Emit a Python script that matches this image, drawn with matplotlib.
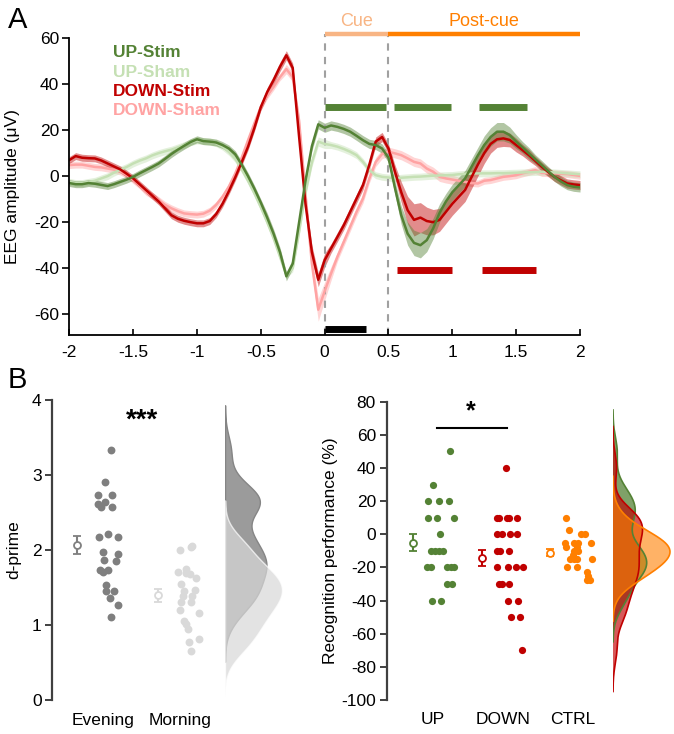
import numpy as np
import matplotlib
matplotlib.use('Agg')
import matplotlib.pyplot as plt

plt.rcParams['font.family'] = ['Liberation Sans', 'DejaVu Sans']
plt.rcParams['axes.unicode_minus'] = False

# ---------------- Panel A data (EEG, sampled every 50 ms from -2 to 2 s) ----------------
t = np.linspace(-2, 2, 81)
up_stim = [-3.0, -3.5, -3.5, -3.0, -3.3, -3.8, -4.3, -3.5, -2.5, -1.5,
           -0.3, 1.2, 2.6, 4.0, 5.5, 7.5, 9.6, 11.5, 13.2, 14.8,
           16.0, 15.2, 15.0, 14.6, 13.5, 12.0, 9.5, 5.0, 0.0, -5.5,
           -11.5, -18.0, -25.0, -33.0, -43.5, -38.0, -20.0, -2.0, 13.0, 22.5,
           21.0, 22.0, 21.4, 20.5, 19.3, 17.5, 15.6, 14.0, 13.5, 12.0,
           8.0, -5.0, -17.0, -25.0, -29.0, -30.0, -27.8, -22.7, -16.0, -11.0,
           -7.0, -4.0, -1.0, 4.0, 9.0, 13.5, 17.0, 19.3, 19.3, 17.8,
           15.0, 12.5, 9.9, 7.3, 4.8, 2.2, -0.3, -2.3, -3.9, -4.6, -4.9]
up_sham = [-2.5, -3.0, -3.0, -2.5, -2.0, -1.0, 0.0, 1.5, 2.8, 4.0,
           5.5, 6.7, 7.7, 9.0, 10.0, 10.8, 11.5, 12.5, 13.5, 14.7,
           15.5, 15.2, 15.0, 14.3, 12.8, 10.5, 7.5, 3.0, -2.0, -7.5,
           -13.5, -20.0, -27.0, -35.0, -43.0, -40.0, -24.0, -7.0, 6.0, 15.0,
           14.0, 13.5, 12.8, 11.8, 10.6, 9.1, 6.2, 2.6, 0.4, -0.3,
           -0.6, -1.0, -0.7, -0.5, -0.3, -0.2, 0.0, 0.2, 0.3, 0.4,
           0.5, 0.8, 1.0, 1.1, 1.2, 1.2, 1.2, 1.3, 1.3, 1.4,
           1.5, 1.6, 1.7, 1.8, 1.9, 1.8, 1.6, 1.4, 1.2, 1.0, 0.8]
down_stim = [7.0, 8.7, 8.0, 7.8, 7.7, 6.8, 5.5, 4.2, 2.9, 1.0,
             -1.0, -3.5, -6.0, -8.5, -11.0, -14.0, -17.0, -18.5, -19.4, -20.0,
             -20.5, -20.5, -19.5, -16.5, -12.0, -6.5, -0.5, 6.0, 12.8, 21.0,
             30.0, 36.5, 41.7, 47.5, 52.5, 47.0, 17.0, -12.0, -33.0, -45.0,
             -36.5, -31.4, -26.4, -21.3, -15.5, -9.7, -3.9, 5.0, 15.0, 17.0,
             12.0, 2.0, -7.0, -14.8, -19.0, -18.0, -19.5, -20.0, -19.0, -15.5,
             -12.0, -9.0, -6.0, -0.5, 5.0, 10.0, 14.0, 16.0, 16.4, 15.7,
             13.5, 11.3, 9.1, 6.6, 4.1, 1.8, -0.3, -1.8, -3.2, -3.6, -3.9]
down_sham = [4.8, 5.0, 5.0, 4.5, 4.0, 3.8, 3.3, 2.8, 2.0, 0.5,
             -1.7, -4.0, -6.8, -8.5, -10.4, -12.5, -14.0, -15.2, -16.2, -16.5,
             -16.7, -16.3, -15.0, -12.5, -9.0, -4.5, 1.2, 8.0, 15.6, 23.0,
             30.0, 35.0, 38.8, 43.0, 46.5, 43.0, 24.0, -8.0, -38.0, -58.0,
             -50.0, -42.3, -35.0, -28.5, -22.0, -15.5, -9.7, -1.0, 6.2, 9.6,
             10.6, 9.9, 9.1, 7.7, 6.2, 5.5, 3.3, 1.9, -0.3, -1.0,
             -1.5, -2.0, -2.5, -3.0, -3.2, -2.0, -1.7, -1.0, -0.3, 0.0,
             0.4, 1.2, 1.9, 2.6, 1.4, 1.3, 1.2, 1.0, 0.9, 0.5, 0.1]
# SEM half-widths
up_stim_sem = [1.5] * 31 + [2.0] * 20 + [3, 4, 5, 5.5, 5.5, 5, 4.5, 4, 3.5, 3.5,
               3.5, 3.5, 3.5, 3.5, 4, 4, 4, 4, 3.5, 3,
               2.5, 2.5, 2, 2, 2, 2, 2, 2, 2, 2]
up_sham_sem = [1.5] * 36 + [2.0] * 5 + [1.5] * 40
down_stim_sem = [1.5] * 31 + [2.0] * 5 + [3.0] * 5 + [2.0] * 10 + [3, 4.5, 6, 7, 6.5, 6, 5.5, 5, 5, 5,
                 5, 5, 5, 5, 4.5, 4, 3.5, 3.5, 3, 3,
                 2.5, 2.5, 2, 2, 2, 2, 2, 2, 2, 2]
down_sham_sem = [1.5] * 34 + [2, 2, 2, 3, 4, 5, 4, 3] + [2.0] * 19 + [1.5] * 20

series_names = ['UP-Stim', 'UP-Sham', 'DOWN-Stim', 'DOWN-Sham']
green_sig = [(0.0, 0.484), (0.54, 0.99), (1.21, 1.585)]
red_sig = [(0.566, 0.994), (1.236, 1.653)]
black_sig = [(0.0, 0.326)]
cue_window = (0.0, 0.5)
postcue_window = (0.5, 2.0)

# ---------------- Panel B data ----------------
evening = [3.33, 2.91, 2.73, 2.73, 2.64, 2.61, 2.57, 2.57, 2.22, 2.18, 2.18, 1.97,
           1.95, 1.87, 1.85, 1.73, 1.73, 1.71, 1.53, 1.45, 1.45, 1.36, 1.27, 1.11]
morning = [2.06, 2.04, 2.00, 1.75, 1.71, 1.69, 1.68, 1.63, 1.55, 1.47, 1.46, 1.39,
           1.39, 1.31, 1.31, 1.20, 1.16, 1.06, 1.02, 0.95, 0.81, 0.77, 0.65]
up_perf = [50, 30, 20, 20, 20, 10, 10, 10, 0, -10, -10, -10, -10, -20, -20, -20, -20, -20,
           -30, -30, -40, -40]
down_perf = [40, 10, 10, 10, 10, 10, 0, 0, 0, 0, -10, -10, -10, -20, -20, -20, -20,
             -30, -30, -30, -40, -40, -50, -50, -70]
ctrl_perf = [10, 2.5, 0, 0, -5, -5, -5, -5, -7.5, -7.5, -10, -10, -12.5, -15, -15, -15, -15,
             -20, -20, -22.5, -25, -27.5, -27.5]
dprime_labels = ['Evening', 'Morning']
perf_labels = ['UP', 'DOWN', 'CTRL']

# jitter offsets (layout, px)
evening_jit = [3.3, -3, -10, 4, -3, -10, -6.7, 4, 0, -9.3, 9.7, -5.3, 9.7, -4.3, 8, -8.3, 0,
               -5.3, -2.3, -1.7, 6.3, 1.7, 9.7, 2.7]
morning_jit = [4, 3.3, -8, -2.3, -9.7, -1.7, 1.7, 8.3, -6.7, 7.3, -4, -5.3, 4.3, 2.7, -6.7,
               -8.3, 10.7, -4, -2.3, 0, 10.7, 0.7, 2.7]
up_jit = [7.7, -8.7, -13.7, -2.7, 6.7, -13.7, -5.3, 12.3, -2, -11, -7, -2.7, 1.3, -15.3, -11,
          4.7, 8.7, 12.3, 4.7, 10, -10, -1.3]
down_jit = [-2.3, -11.3, -8.7, -1.3, 1, 9.3, -11.3, -6.3, 2, 9.3, -11.3, -7.7, 1, -11.3, 0.3,
            8, 15.3, -9.3, -6.3, 1, 0.3, 10.3, 2.7, 12, 14.3]
ctrl_jit = [-11, -7.7, 3.7, 8, -12, -3, 14, 1.3, -11.3, -0.3, -3, 1.3, -3.7, -7, -3, 0.3,
            15.3, -9.7, 0.3, 9.7, 11.3, 9.7, 13]

# ---------------- colours ----------------
C_UP = '#548235'
C_UPSH = '#c5e0b4'
C_DN = '#c00000'
C_DNSH = '#ffa3a3'
C_OR = '#ff7f00'
C_CUE = '#f8b584'
C_EV = '#7f7f7f'
C_MO = '#d9d9d9'

W, H = 674, 734
fig = plt.figure(figsize=(W / 100, H / 100), dpi=100)


def rect(x0, y0, x1, y1):
    return [x0 / W, 1 - y1 / H, (x1 - x0) / W, (y1 - y0) / H]


# ================= Panel A =================
ax = fig.add_axes(rect(69.3, 38, 580, 335))
ax.set_xlim(-2, 2)
ax.set_ylim(-69, 60)
for sp in ['top', 'right']:
    ax.spines[sp].set_visible(False)
for sp in ['left', 'bottom']:
    ax.spines[sp].set_linewidth(1.3)

data = [(down_sham, down_sham_sem, C_DNSH), (up_sham, up_sham_sem, C_UPSH),
        (down_stim, down_stim_sem, C_DN), (up_stim, up_stim_sem, C_UP)]
for y, s, c in data:
    y = np.array(y)
    s = np.array(s)
    ax.fill_between(t, y - s, y + s, color=c, alpha=0.45, lw=0)
    ax.plot(t, y, color=c, lw=1.8, solid_joinstyle='round')

ax.set_xticks(np.arange(-2, 2.01, 0.5))
ax.set_xticklabels(['-2', '-1.5', '-1', '-0.5', '0', '0.5', '1', '1.5', '2'])
ax.set_yticks(np.arange(-60, 61, 20))
ax.tick_params(axis='x', direction='in', length=4, width=1.2, pad=7, labelsize=12.5)
ax.tick_params(axis='y', direction='out', length=5, width=1.2, pad=2.5, labelsize=12.5)
ax.set_ylabel('EEG amplitude (μV)', fontsize=12.5)
ax.yaxis.set_label_coords(-0.097, 0.5)

# dashed cue lines
for xv in cue_window:
    ax.plot([xv, xv], [-69, 61.6], ls=(0, (3.5, 3)), color='#a0a0a0', lw=1.5, clip_on=False, zorder=1)
# cue bars
ax.plot(cue_window, [61.6, 61.6], color=C_CUE, lw=3.2, solid_capstyle='butt', clip_on=False)
ax.plot(postcue_window, [61.6, 61.6], color=C_OR, lw=3.2, solid_capstyle='butt', clip_on=False)
ax.text(np.mean(cue_window), 65.2, 'Cue', color=C_CUE, fontsize=13, ha='center', va='baseline')
ax.text(np.mean(postcue_window), 65.2, 'Post-cue', color=C_OR, fontsize=13, ha='center', va='baseline')
# significance bars
for a, b in green_sig:
    ax.plot([a, b], [29.9, 29.9], color=C_UP, lw=5, solid_capstyle='butt')
for a, b in red_sig:
    ax.plot([a, b], [-40.6, -40.6], color=C_DN, lw=5, solid_capstyle='butt')
for a, b in black_sig:
    ax.plot([a, b], [-66.3, -66.3], color='black', lw=5, solid_capstyle='butt', clip_on=False)

# legend texts
for name, c, yy in zip(series_names, [C_UP, C_UPSH, C_DN, C_DNSH], [51.6, 43.2, 34.8, 26.4]):
    ax.text(-1.658, yy, name, color=c, fontsize=12.5, fontweight='bold', ha='left', va='baseline')

fig.text(8 / W, 1 - 28 / H, 'A', fontsize=21, ha='left', va='baseline')
fig.text(8 / W, 1 - 388 / H, 'B', fontsize=21, ha='left', va='baseline')


def kde(vals, h, n=400):
    v = np.asarray(vals, dtype=float)
    grid = np.linspace(v.min() - 3 * h, v.max() + 3 * h, n)
    d = np.exp(-0.5 * ((grid[:, None] - v[None, :]) / h) ** 2).sum(1) / (len(v) * h * np.sqrt(2 * np.pi))
    return grid, d


def mean_sem(v):
    v = np.asarray(v, dtype=float)
    return v.mean(), v.std(ddof=1) / np.sqrt(len(v))


# ================= Panel B left =================
bl = fig.add_axes(rect(52, 400, 222, 700))
bl.set_xlim(0, 170)
bl.set_ylim(0, 4)
for sp in ['top', 'right', 'bottom']:
    bl.spines[sp].set_visible(False)
bl.spines['left'].set_linewidth(1.6)
bl.spines['left'].set_color('#404040')
bl.set_yticks([0, 1, 2, 3, 4])
bl.tick_params(axis='y', direction='out', length=5, width=1.4, color='#404040', pad=2.5, labelsize=12.5)
bl.set_xticks([51, 128])
bl.set_xticklabels(dprime_labels)
bl.tick_params(axis='x', length=0, pad=9, labelsize=12.5)
bl.set_ylabel('d-prime', fontsize=12.5)
bl.yaxis.set_label_coords(-0.18, 0.5)

for vals, jit, c, ctr, epos in [(evening, evening_jit, C_EV, 56, 25), (morning, morning_jit, C_MO, 136, 106)]:
    bl.scatter(ctr + np.array(jit), vals, s=32, color=c, lw=0, zorder=3)
    m, s = mean_sem(vals)
    bl.errorbar([epos], [m], yerr=[s], fmt='o', ms=5, mfc='white', mec=c, color=c,
                elinewidth=1.5, capsize=3, capthick=1.5, mew=1.3, zorder=4)
bl.text(90, 3.72, '***', fontsize=20, fontweight='bold', ha='center', va='center')

kl = fig.add_axes(rect(225, 400, 287, 700))
kl.set_ylim(0, 4)
kl.axis('off')
ge, de = kde(evening, 0.2)
gm, dm = kde(morning, 0.2)
dmax = max(de.max(), dm.max())
kl.set_xlim(0, dmax * 62 / 57)
kl.fill_betweenx(ge, 0, de, facecolor='#9b9b9b', edgecolor='#858585', lw=1)
kl.fill_betweenx(gm, 0, dm, facecolor='#d8d8d8', alpha=0.71, edgecolor='white', lw=1)

# ================= Panel B right =================
br = fig.add_axes(rect(387, 401.7, 607, 700))
br.set_xlim(0, 220)
br.set_ylim(-100, 80)
for sp in ['top', 'right', 'bottom']:
    br.spines[sp].set_visible(False)
br.spines['left'].set_linewidth(1.6)
br.spines['left'].set_color('#404040')
br.set_yticks(np.arange(-100, 81, 20))
br.tick_params(axis='y', direction='out', length=5, width=1.4, color='#404040', pad=3, labelsize=12.5)
br.set_xticks([46, 116, 186])
br.set_xticklabels(perf_labels)
br.tick_params(axis='x', length=0, pad=9, labelsize=12.5)
br.set_ylabel('Recognition performance (%)', fontsize=12.5)
br.yaxis.set_label_coords(-0.225, 0.5)

for vals, jit, c, ctr, epos in [(up_perf, up_jit, C_UP, 55, 26), (down_perf, down_jit, C_DN, 121, 95),
                                (ctrl_perf, ctrl_jit, C_OR, 190, 163)]:
    br.scatter(ctr + np.array(jit), vals, s=27, color=c, lw=0, zorder=3)
    m, s = mean_sem(vals)
    br.errorbar([epos], [m], yerr=[s], fmt='o', ms=5, mfc='white', mec=c, color=c,
                elinewidth=1.5, capsize=3, capthick=1.5, mew=1.3, zorder=4)
br.plot([50, 120], [64, 64], color='black', lw=1.5)
br.text(84, 67, '*', fontsize=18, fontweight='bold', ha='center', va='bottom')

kr = fig.add_axes(rect(613, 401.7, 675, 700))
kr.set_ylim(-100, 80)
kr.axis('off')
h = 25 / 3
curves = [kde(up_perf, h), kde(down_perf, h), kde(ctrl_perf, h)]
dmax = max(d.max() for g, d in curves)
kr.set_xlim(0, dmax * 62 / 57)
for (g, d), c, a in zip(curves, [C_UP, C_DN, C_OR], [0.75, 0.65, 0.6]):
    kr.fill_betweenx(g, 0, d, facecolor=c, alpha=a, edgecolor='none')
    kr.plot(np.r_[0, d, 0], np.r_[g[0], g, g[-1]], color=c, lw=1.2)

fig.savefig('out.png', dpi=100)
